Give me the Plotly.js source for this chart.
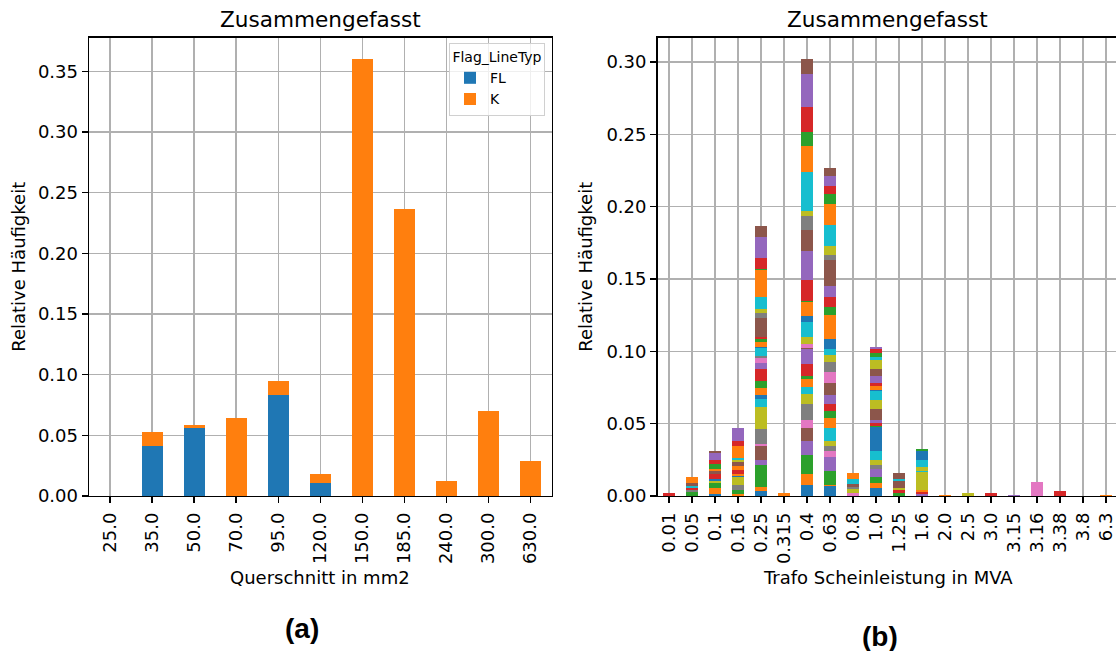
<!DOCTYPE html>
<html>
<head>
<meta charset="utf-8">
<script src="https://cdn.plot.ly/plotly-3.0.1.min.js"></script>
<style>html,body{margin:0;padding:0;background:#fff;}#chart{width:1116px;height:651px;}</style>
</head>
<body>
<div id="chart"></div>
<script>
// ---------- DATA ----------
// Left panel: cable cross-section (Querschnitt) stacked by Flag_LineTyp
const querschnittCats = ['25.0','35.0','50.0','70.0','95.0','120.0','150.0','185.0','240.0','300.0','630.0'];
const flValues = [0, 0.0415, 0.0564, 0, 0.0833, 0.0107, 0, 0, 0, 0, 0];
const kValues  = [0, 0.0110, 0.0022, 0.0644, 0.0116, 0.0074, 0.3600, 0.2368, 0.0124, 0.0701, 0.0292];
const lineTypNames = ['FL', 'K'];

// Right panel: transformer rating, stacked by many sub-series (series index per segment)
const trafoCats = ['0.01','0.05','0.1','0.16','0.25','0.315','0.4','0.63','0.8','1.0','1.25','1.6','2.0','2.5','3.0','3.15','3.16','3.38','3.8','6.3'];
const trafoSeriesIdx = [
  [3],
  [2,7,13,19,25,31],
  [0,1,2,8,10,13,15,21,22,23,24,25],
  [1,2,7,8,10,11,13,21,25,28,29,31,33,34],
  [0,1,2,4,5,6,7,8,9,10,11,12,13,14,16,17,19,20,21,22,23,25,27,28,29,31,32,33,34,35],
  [1],
  [0,1,2,4,5,6,7,8,9,11,12,13,14,15,16,18,19,20,21,22,23,24,25,27,28,29,31,32,33,34,35],
  [0,1,2,4,6,7,8,9,11,12,13,14,15,16,17,18,19,20,21,22,23,24,25,27,28,29,31,32,33,34,35],
  [6,8,17,25,29,31],
  [0,1,2,4,7,8,9,10,12,13,14,15,18,19,20,21,23,24,25,28,29,32,33,34],
  [2,3,8,15,19,25],
  [4,13,21,28,29,38,39,40,42],
  [1],
  [8],
  [3],
  [4],
  [6],
  [3],
  [],
  [1]
];
const trafoSeriesVal = [
  [0.0021],
  [0.0028,0.0014,0.0012,0.0016,0.0018,0.0044],
  [0.0016,0.0041,0.0032,0.0014,0.0014,0.0037,0.0021,0.0014,0.0032,0.0030,0.0048,0.0012],
  [0.0012,0.0030,0.0037,0.0053,0.0009,0.0012,0.0030,0.0021,0.0032,0.0014,0.0016,0.0081,0.0035,0.0090],
  [0.0032,0.0032,0.0150,0.0035,0.0097,0.0014,0.0104,0.0152,0.0055,0.0028,0.0048,0.0048,0.0083,0.0044,0.0032,0.0016,0.0051,0.0007,0.0037,0.0021,0.0014,0.0134,0.0032,0.0028,0.0083,0.0186,0.0009,0.0074,0.0145,0.0076],
  [0.0021],
  [0.0076,0.0076,0.0131,0.0097,0.0090,0.0055,0.0110,0.0069,0.0048,0.0055,0.0021,0.0083,0.0104,0.0007,0.0030,0.0046,0.0104,0.0041,0.0097,0.0009,0.0143,0.0200,0.0145,0.0097,0.0035,0.0272,0.0177,0.0097,0.0173,0.0228,0.0104],
  [0.0069,0.0007,0.0097,0.0097,0.0041,0.0035,0.0035,0.0090,0.0069,0.0048,0.0048,0.0064,0.0081,0.0076,0.0069,0.0048,0.0041,0.0069,0.0166,0.0055,0.0069,0.0076,0.0180,0.0035,0.0062,0.0145,0.0145,0.0069,0.0055,0.0069,0.0055],
  [0.0021,0.0025,0.0018,0.0016,0.0037,0.0041],
  [0.0055,0.0035,0.0041,0.0055,0.0028,0.0035,0.0062,0.0166,0.0007,0.0021,0.0021,0.0076,0.0062,0.0062,0.0007,0.0028,0.0021,0.0048,0.0048,0.0062,0.0021,0.0028,0.0028,0.0014],
  [0.0018,0.0023,0.0014,0.0048,0.0014,0.0041],
  [0.0016,0.0014,0.0014,0.0124,0.0007,0.0028,0.0046,0.0062,0.0014],
  [0.0007],
  [0.0021],
  [0.0021],
  [0.0007],
  [0.0097],
  [0.0035],
  [],
  [0.0007]
];

// ---------- STYLE ----------
const tab10 = ['#1f77b4','#ff7f0e','#2ca02c','#d62728','#9467bd','#8c564b','#e377c2','#7f7f7f','#bcbd22','#17becf'];
const W = 1116, H = 651;
const FONT = 'DejaVu Sans, sans-serif';
const px = v => v / W;
const py = v => 1 - v / H;

const traces = [];
traces.push({type:'bar', x: querschnittCats, y: flValues, name: lineTypNames[0], xaxis:'x', yaxis:'y',
  width: 0.5, marker:{color: tab10[0], line:{width:0}}, hoverinfo:'x+y+name'});
traces.push({type:'bar', x: querschnittCats, y: kValues, name: lineTypNames[1], xaxis:'x', yaxis:'y',
  width: 0.5, marker:{color: tab10[1], line:{width:0}}, hoverinfo:'x+y+name'});

let nSeries = 0;
trafoSeriesIdx.forEach(a => a.forEach(i => { if (i + 1 > nSeries) nSeries = i + 1; }));
for (let s = 0; s < nSeries; s++) {
  const ys = trafoCats.map((c, ci) => {
    const k = trafoSeriesIdx[ci].indexOf(s);
    return k >= 0 ? trafoSeriesVal[ci][k] : 0;
  });
  if (ys.every(v => v === 0)) continue;
  traces.push({type:'bar', x: trafoCats, y: ys, name: 'S' + s, xaxis:'x2', yaxis:'y2', showlegend:false,
    width: 0.5, marker:{color: tab10[s % 10], line:{width:0}}});
}

const axisCommon = {
  showline:true, linecolor:'#000', linewidth:1.4,
  ticks:'outside', ticklen:6, tickwidth:1.4, tickcolor:'#000',
  showgrid:true, gridcolor:'#b0b0b0', gridwidth:1.4, zeroline:false,
  tickfont:{family:FONT, size:18, color:'#000'}
};

const leftA = 89, rightA = 551.5, leftB = 657.5, topY = 37.5, bottomY = 496;
const unitR = 23;

const layout = {
  width: W, height: H,
  margin:{l:0, r:0, t:0, b:0, pad:0},
  paper_bgcolor:'#fff', plot_bgcolor:'#fff',
  barmode:'stack', bargap:0.5,
  font:{family:FONT, color:'#000'},
  xaxis: Object.assign({}, axisCommon, {domain:[px(leftA), px(rightA)], anchor:'y', type:'category',
    range:[-0.5, 10.5], tickangle:-90, mirror:true, ticklabelstandoff:2}),
  yaxis: Object.assign({}, axisCommon, {domain:[py(bottomY), py(topY)], anchor:'x',
    range:[0, 0.378], dtick:0.05, tick0:0, tickformat:'.2f', mirror:true}),
  xaxis2: Object.assign({}, axisCommon, {domain:[px(leftB), 1], anchor:'y2', type:'category',
    range:[-0.5, -0.5 + (W - leftB) / unitR], tickangle:-90, mirror:true, ticklabelstandoff:2}),
  yaxis2: Object.assign({}, axisCommon, {domain:[py(bottomY), py(topY)], anchor:'x2',
    range:[0, 0.317], dtick:0.05, tick0:0, tickformat:'.2f', mirror:false}),
  legend:{x: px(545), xanchor:'right', y: py(43), yanchor:'top',
    bgcolor:'rgba(255,255,255,0.8)', bordercolor:'#d0d0d0', borderwidth:1,
    font:{family:FONT, size:14, color:'#000'},
    title:{text:'Flag_LineTyp', side:'top center', font:{family:FONT, size:14, color:'#000'}},
    traceorder:'normal', itemwidth:30, tracegroupgap:0},
  annotations:[
    {text:'Zusammengefasst', x: px((leftA+rightA)/2), y: py(19), xref:'paper', yref:'paper', showarrow:false,
      xanchor:'center', yanchor:'middle', font:{family:FONT, size:21.6, color:'#000'}},
    {text:'Zusammengefasst', x: px(887.5), y: py(19), xref:'paper', yref:'paper', showarrow:false,
      xanchor:'center', yanchor:'middle', font:{family:FONT, size:21.6, color:'#000'}},
    {text:'Querschnitt in mm2', x: px((leftA+rightA)/2), y: py(577), xref:'paper', yref:'paper', showarrow:false,
      xanchor:'center', yanchor:'middle', font:{family:FONT, size:18, color:'#000'}},
    {text:'Trafo Scheinleistung in MVA', x: px(887.5), y: py(577), xref:'paper', yref:'paper', showarrow:false,
      xanchor:'center', yanchor:'middle', font:{family:FONT, size:18, color:'#000'}},
    {text:'Relative Häufigkeit', x: px(19), y: py((topY+bottomY)/2), xref:'paper', yref:'paper', showarrow:false,
      textangle:-90, xanchor:'center', yanchor:'middle', font:{family:FONT, size:18, color:'#000'}},
    {text:'Relative Häufigkeit', x: px(586), y: py((topY+bottomY)/2), xref:'paper', yref:'paper', showarrow:false,
      textangle:-90, xanchor:'center', yanchor:'middle', font:{family:FONT, size:18, color:'#000'}},
    {text:'<b>(a)</b>', x: px(302), y: py(628), xref:'paper', yref:'paper', showarrow:false,
      xanchor:'center', yanchor:'middle', font:{family:'Liberation Sans, Arial, sans-serif', size:28, color:'#000'}},
    {text:'<b>(b)</b>', x: px(880), y: py(636), xref:'paper', yref:'paper', showarrow:false,
      xanchor:'center', yanchor:'middle', font:{family:'Liberation Sans, Arial, sans-serif', size:28, color:'#000'}}
  ]
};

Plotly.newPlot('chart', traces, layout, {displayModeBar:false, staticPlot:true});
</script>
</body>
</html>
